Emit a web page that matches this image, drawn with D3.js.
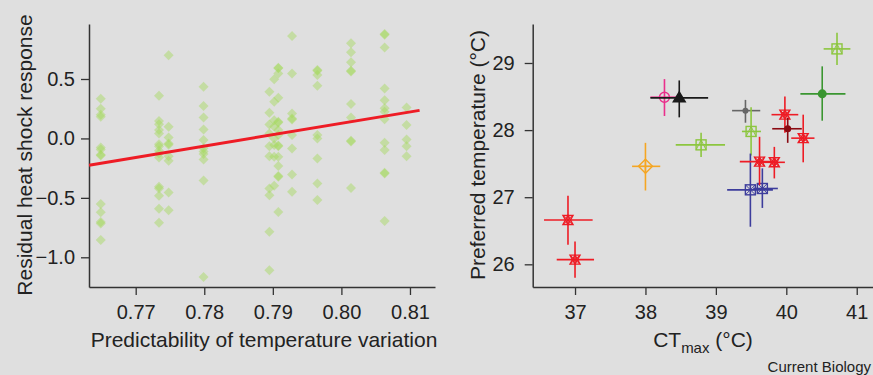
<!DOCTYPE html>
<html>
<head>
<meta charset="utf-8">
<script src="https://cdn.jsdelivr.net/npm/d3@7"></script>
<style>
  body { margin: 0; background: #dfdfdf; }
  svg { display: block; }
</style>
</head>
<body>
<div id="chart"></div>
<script>
// ---- left panel data: residual heat shock response vs predictability
const predX = [0.7649, 0.7734, 0.7748, 0.7799, 0.7895, 0.7902, 0.7908, 0.7928, 0.7965, 0.8014, 0.8063, 0.8095];
const residY = [
  [0.333, 0.249, 0.199, 0.182, -0.076, -0.093, -0.138, -0.143, -0.551, -0.620, -0.704, -0.715, -0.854],
  [0.359, 0.146, 0.120, 0.070, 0.042, -0.048, -0.065, -0.104, -0.126, -0.160, -0.407, -0.421, -0.483, -0.592, -0.710],
  [0.699, 0.098, 0.008, -0.042, -0.054, -0.149, -0.188, -0.455, -0.604],
  [0.434, 0.272, 0.177, 0.076, -0.014, -0.082, -0.110, -0.132, -0.177, -0.354, -1.165],
  [0.392, 0.216, 0.118, 0.042, -0.065, -0.149, -0.421, -0.477, -0.786, -1.109],
  [0.497, 0.308, 0.154, 0.098, 0.000, -0.056, -0.155, -0.399],
  [0.594, 0.590, 0.547, 0.342, 0.140, 0.135, 0.070, 0.028, -0.065, -0.060, -0.155, -0.231, -0.317, -0.322, -0.618],
  [0.861, 0.547, 0.210, 0.168, 0.160, 0.028, -0.084, -0.303, -0.449],
  [0.575, 0.570, 0.533, 0.443, 0.028, 0.000, -0.168, -0.379, -0.519],
  [0.800, 0.724, 0.640, 0.569, 0.564, 0.289, 0.177, -0.020, -0.025, -0.416],
  [0.878, 0.873, 0.766, 0.421, 0.322, 0.253, 0.224, 0.162, -0.037, -0.098, -0.289, -0.294, -0.694],
  [0.261, 0.112, -0.008, -0.065, -0.149]
];
const fitX = [0.7632, 0.8114];
const fitY = [-0.225, 0.236];
const leftXTicks = [0.77, 0.78, 0.79, 0.80, 0.81];
const leftYTicks = [-1.0, -0.5, 0.0, 0.5];

// ---- right panel data: preferred temperature vs CTmax (mean + error bars)
const ctMax   = [36.90, 37.00, 38.00, 38.27, 38.48, 38.79, 39.42, 39.50, 39.49, 39.66, 39.62, 39.83, 39.98, 40.02, 40.24, 40.51, 40.72];
const ctLo    = [36.56, 36.74, 37.81, 38.07, 38.07, 38.43, 39.23, 39.37, 39.16, 39.53, 39.34, 39.62, 39.79, 39.80, 40.07, 40.20, 40.53];
const ctHi    = [37.25, 37.27, 38.21, 38.44, 38.89, 39.13, 39.63, 39.64, 39.81, 39.88, 39.82, 39.98, 40.17, 40.22, 40.40, 40.84, 40.91];
const prefT   = [26.66, 26.07, 27.46, 28.49, 28.48, 27.78, 28.29, 27.98, 27.11, 27.13, 27.53, 27.52, 28.23, 28.02, 27.88, 28.54, 29.21];
const prefLo  = [26.29, 25.80, 27.10, 28.21, 28.19, 27.60, 28.11, 27.62, 26.56, 26.84, 27.18, 27.28, 27.96, 27.81, 27.52, 28.14, 28.97];
const prefHi  = [27.02, 26.34, 27.81, 28.76, 28.74, 27.96, 28.45, 28.34, 27.65, 27.43, 27.90, 27.75, 28.50, 28.18, 28.23, 28.95, 29.45];
const species = ["star", "star", "diamondplus", "circle", "triangle", "squaretri", "dot", "squaretri", "squarex", "squarex",
                 "star", "star", "star", "dot", "star", "dot", "squaretri"];
const speciesColor = ["#ee1c25", "#ee1c25", "#f5a623", "#ea2f8c", "#1a1a1a", "#8cc63f", "#666666", "#8cc63f", "#3d3d9c", "#3d3d9c",
                      "#ee1c25", "#ee1c25", "#ee1c25", "#8a0a12", "#ee1c25", "#3a9630", "#8cc63f"];
const dotR = [0, 0, 0, 0, 0, 0, 3, 0, 0, 0, 0, 0, 0, 3.5, 0, 4.5, 0];
const rightXTicks = [37, 38, 39, 40, 41];
const rightYTicks = [26, 27, 28, 29];

const width = 873, height = 375;
const font = "'Liberation Sans', Arial, sans-serif";

const svg = d3.select("#chart").append("svg")
  .attr("width", width).attr("height", height)
  .style("font-family", font);

svg.append("rect").attr("width", width).attr("height", height).attr("fill", "#dfdfdf");

function styleAxis(g) {
  g.selectAll("path").attr("stroke", "#333").attr("stroke-width", 1.5);
  g.selectAll("line").attr("stroke", "#333").attr("stroke-width", 1.3);
  g.selectAll("text").attr("fill", "#222").style("font-size", "20px").style("font-family", font);
}

// ===== left panel =====
const xL = d3.scaleLinear().domain([0.76319, 0.81365]).range([89, 435]);
const yL = d3.scaleLinear().domain([-1.2499, 0.9627]).range([287, 24]);

svg.append("g").attr("transform", "translate(0,287)")
  .call(d3.axisBottom(xL).tickValues(leftXTicks).tickFormat(d3.format(".2f")).tickSize(8).tickSizeOuter(0).tickPadding(10))
  .call(styleAxis);
svg.append("g").attr("transform", "translate(89,0)")
  .call(d3.axisLeft(yL).tickValues(leftYTicks).tickFormat(d => d3.format(".1f")(d).replace("-", "\u2212")).tickSize(8).tickSizeOuter(0).tickPadding(6))
  .call(styleAxis);

const pts = [];
predX.forEach((x, i) => residY[i].forEach(y => pts.push([x, y])));

svg.append("g").selectAll("path")
  .data(pts)
  .enter()
  .append("path")
  .attr("d", d3.symbol(d3.symbolSquare, 50))
  .attr("transform", d => `translate(${xL(d[0])},${yL(d[1])}) rotate(45)`)
  .attr("fill", "#a4da5a")
  .attr("fill-opacity", 0.45);

svg.append("path")
  .datum(fitX.map((x, i) => [x, fitY[i]]))
  .attr("d", d3.line().x(d => xL(d[0])).y(d => yL(d[1])))
  .attr("stroke", "#ee1c25")
  .attr("stroke-width", 3)
  .attr("fill", "none");

svg.append("text")
  .attr("transform", "translate(32,155) rotate(-90)")
  .attr("text-anchor", "middle")
  .style("font-size", "21px").attr("fill", "#222")
  .text("Residual heat shock response");

svg.append("text")
  .attr("x", 264).attr("y", 347)
  .attr("text-anchor", "middle")
  .style("font-size", "21px").attr("fill", "#222")
  .text("Predictability of temperature variation");

// ===== right panel =====
const xR = d3.scaleLinear().domain([36.399, 41.231]).range([532.7, 873]);
const yR = d3.scaleLinear().domain([25.662, 29.581]).range([287, 24]);

svg.append("g").attr("transform", "translate(0,287)")
  .call(d3.axisBottom(xR).tickValues(rightXTicks).tickFormat(d3.format("d")).tickSize(8).tickSizeOuter(0).tickPadding(10))
  .call(styleAxis);
svg.append("g").attr("transform", "translate(532.7,0)")
  .call(d3.axisLeft(yR).tickValues(rightYTicks).tickFormat(d3.format("d")).tickSize(8).tickSizeOuter(0).tickPadding(10))
  .call(styleAxis);

const sp = ctMax.map((x, i) => ({
  x, y: prefT[i], xlo: ctLo[i], xhi: ctHi[i], ylo: prefLo[i], yhi: prefHi[i],
  shape: species[i], color: speciesColor[i], r: dotR[i]
}));

const marks = svg.append("g").selectAll("g")
  .data(sp)
  .enter()
  .append("g")
  .attr("stroke", d => d.color)
  .attr("fill", "none");

marks.append("line")
  .attr("x1", d => xR(d.xlo)).attr("x2", d => xR(d.xhi))
  .attr("y1", d => yR(d.y)).attr("y2", d => yR(d.y))
  .attr("stroke-width", 1.6);
marks.append("line")
  .attr("x1", d => xR(d.x)).attr("x2", d => xR(d.x))
  .attr("y1", d => yR(d.ylo)).attr("y2", d => yR(d.yhi))
  .attr("stroke-width", 1.6);

marks.each(function(d) {
  const g = d3.select(this).append("g")
    .attr("transform", `translate(${xR(d.x)},${yR(d.y)})`)
    .attr("stroke-width", 1.4);
  if (d.shape === "star") {
    g.append("path").attr("d", "M-5,-4.5H5L0,4.5Z");
    g.append("path").attr("d", "M-5,4.5H5L0,-4.5Z");
    g.append("path").attr("d", "M-5,-4.5L5,4.5M5,-4.5L-5,4.5").attr("stroke-width", 1);
  } else if (d.shape === "squarex") {
    g.append("rect").attr("x", -5).attr("y", -5).attr("width", 10).attr("height", 10);
    g.append("path").attr("d", "M-5,-5L5,5M5,-5L-5,5M0,-5V5M-5,0H5").attr("stroke-width", 1);
  } else if (d.shape === "squaretri") {
    g.append("rect").attr("x", -5).attr("y", -5).attr("width", 10).attr("height", 10);
    g.append("path").attr("d", "M-5,5L0,-5L5,5").attr("stroke-width", 1);
  } else if (d.shape === "diamondplus") {
    g.append("path").attr("d", "M0,-7L7,0L0,7L-7,0Z");
    g.append("path").attr("d", "M0,-7V7M-7,0H7");
  } else if (d.shape === "circle") {
    g.append("circle").attr("r", 5);
  } else if (d.shape === "triangle") {
    g.append("path").attr("d", "M0,-6L6,4H-6Z").attr("fill", d.color);
  } else {
    g.append("circle").attr("r", d.r).attr("fill", d.color).attr("stroke", "none");
  }
});

svg.append("text")
  .attr("transform", "translate(485,155) rotate(-90)")
  .attr("text-anchor", "middle")
  .style("font-size", "21px").attr("fill", "#222")
  .text("Preferred temperature (°C)");

const ct = svg.append("text")
  .attr("x", 703).attr("y", 347)
  .attr("text-anchor", "middle")
  .style("font-size", "21px").attr("fill", "#222");
ct.append("tspan").text("CT");
ct.append("tspan").attr("dy", 6).style("font-size", "15px").text("max");
ct.append("tspan").attr("dy", -6).text(" (°C)");

svg.append("text")
  .attr("x", 871).attr("y", 372)
  .attr("text-anchor", "end")
  .style("font-size", "15px").attr("fill", "#222")
  .text("Current Biology");
</script>
</body>
</html>
